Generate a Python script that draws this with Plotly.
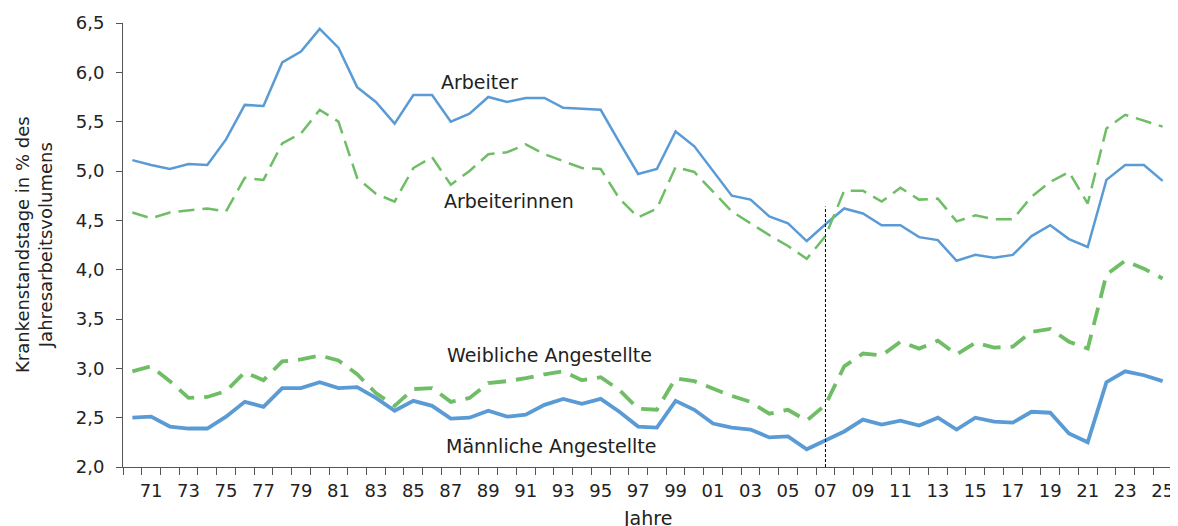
import plotly.graph_objects as go

years = list(range(1970, 2026))

arbeiter = [5.11, 5.06, 5.02, 5.07, 5.06, 5.32, 5.67, 5.66, 6.10, 6.21,
            6.44, 6.25, 5.85, 5.70, 5.48, 5.77, 5.77, 5.50, 5.58, 5.75,
            5.70, 5.74, 5.74, 5.64, 5.63, 5.62, 5.29, 4.97, 5.02, 5.40,
            5.25, 5.00, 4.75, 4.71, 4.54, 4.47, 4.29, 4.46, 4.62, 4.57,
            4.45, 4.45, 4.33, 4.30, 4.09, 4.15, 4.12, 4.15, 4.34, 4.45,
            4.31, 4.23, 4.91, 5.06, 5.06, 4.90]

arbeiterinnen = [4.58, 4.52, 4.58, 4.60, 4.62, 4.59, 4.93, 4.91, 5.28, 5.38,
                 5.62, 5.50, 4.93, 4.77, 4.69, 5.03, 5.14, 4.86, 5.00, 5.17,
                 5.19, 5.27, 5.17, 5.10, 5.03, 5.02, 4.72, 4.53, 4.62, 5.04,
                 4.99, 4.79, 4.59, 4.47, 4.35, 4.24, 4.11, 4.34, 4.80, 4.80,
                 4.69, 4.83, 4.71, 4.72, 4.49, 4.55, 4.51, 4.51, 4.74, 4.89,
                 4.99, 4.67, 5.43, 5.57, 5.51, 5.45]

weibl_angestellte = [2.97, 3.02, 2.87, 2.70, 2.71, 2.77, 2.96, 2.88, 3.07, 3.09,
                     3.13, 3.08, 2.94, 2.75, 2.62, 2.79, 2.80, 2.66, 2.70, 2.85,
                     2.87, 2.90, 2.94, 2.97, 2.88, 2.91, 2.78, 2.59, 2.58, 2.90,
                     2.87, 2.79, 2.72, 2.66, 2.54, 2.58, 2.47, 2.63, 3.02, 3.15,
                     3.13, 3.27, 3.20, 3.28, 3.14, 3.26, 3.21, 3.22, 3.37, 3.40,
                     3.27, 3.20, 3.95, 4.09, 4.01, 3.91]

maennl_angestellte = [2.50, 2.51, 2.41, 2.39, 2.39, 2.51, 2.66, 2.61, 2.80, 2.80,
                      2.86, 2.80, 2.81, 2.70, 2.57, 2.67, 2.62, 2.49, 2.50, 2.57,
                      2.51, 2.53, 2.63, 2.69, 2.64, 2.69, 2.56, 2.41, 2.40, 2.67,
                      2.58, 2.44, 2.40, 2.38, 2.30, 2.31, 2.18, 2.27, 2.36, 2.48,
                      2.43, 2.47, 2.42, 2.50, 2.38, 2.50, 2.46, 2.45, 2.56, 2.55,
                      2.34, 2.25, 2.86, 2.97, 2.93, 2.87]

tick_years = list(range(1971, 2026, 2))
tick_labels = [f"{y % 100:02d}" for y in tick_years]
y_ticks = [2.0, 2.5, 3.0, 3.5, 4.0, 4.5, 5.0, 5.5, 6.0, 6.5]

BLUE = "#5b9bd5"
GREEN = "#6fbe66"
FONT = "DejaVu Sans"
TXT = "#222222"
AX = "#555555"

fig = go.Figure()
fig.add_trace(go.Scatter(x=years, y=arbeiter, mode="lines", name="Arbeiter",
                         line=dict(color=BLUE, width=2.5)))
fig.add_trace(go.Scatter(x=years, y=arbeiterinnen, mode="lines", name="Arbeiterinnen",
                         line=dict(color=GREEN, width=2.5, dash="16px,8px")))
fig.add_trace(go.Scatter(x=years, y=weibl_angestellte, mode="lines", name="Weibliche Angestellte",
                         line=dict(color=GREEN, width=3.8, dash="18px,10px")))
fig.add_trace(go.Scatter(x=years, y=maennl_angestellte, mode="lines", name="Männliche Angestellte",
                         line=dict(color=BLUE, width=3.8)))

fig.add_shape(type="line", x0=2007, x1=2007, y0=2.0, y1=4.64, xref="x", yref="y",
              line=dict(color="black", width=1, dash="3px,2px"))

label_font = dict(family=FONT, size=19, color=TXT)
for txt, x, y in [("Arbeiter", 1988.52, 5.90),
                  ("Arbeiterinnen", 1990.12, 4.70),
                  ("Weibliche Angestellte", 1992.25, 3.14),
                  ("Männliche Angestellte", 1992.33, 2.21)]:
    fig.add_annotation(x=x, y=y, xref="x", yref="y", text=txt, showarrow=False,
                       font=label_font, xanchor="center", yanchor="middle")

fig.add_annotation(x=-0.0848, y=0.5, xref="paper", yref="paper",
                   text="Krankenstandstage in % des<br>Jahresarbeitsvolumens",
                   textangle=-90, showarrow=False, font=dict(family=FONT, size=18, color=TXT),
                   xanchor="center", yanchor="middle")
fig.add_annotation(x=(648 - 123) / 1051, y=-0.115, xref="paper", yref="paper",
                   text="Jahre", showarrow=False, font=dict(family=FONT, size=19, color=TXT),
                   xanchor="center", yanchor="middle")

fig.update_layout(
    width=1170, height=518,
    margin=dict(l=115, r=4, t=15, b=59),
    plot_bgcolor="white", paper_bgcolor="white",
    showlegend=False,
    separators=",.",
    font=dict(family=FONT, size=18, color=TXT),
)
fig.update_xaxes(range=[1969.5, 2025.5], tickmode="array", tickvals=tick_years, ticktext=tick_labels,
                 ticks="", showgrid=False, zeroline=False, showline=True, linecolor=AX,
                 linewidth=1, ticklabelstandoff=7,
                 minor=dict(tickmode="linear", tick0=1969.5, dtick=1, ticks="outside",
                            ticklen=7, tickcolor=AX, showgrid=False),
                 tickfont=dict(family=FONT, size=18, color=TXT))
fig.update_yaxes(range=[2.0, 6.5], tickmode="array", tickvals=y_ticks,
                 ticktext=[f"{v:.1f}".replace(".", ",") for v in y_ticks],
                 ticks="outside", ticklen=6, tickcolor=AX, ticklabelstandoff=8,
                 showgrid=False, zeroline=False, showline=True, linecolor=AX, linewidth=1,
                 tickfont=dict(family=FONT, size=18, color=TXT))

fig.write_html("out.html")
